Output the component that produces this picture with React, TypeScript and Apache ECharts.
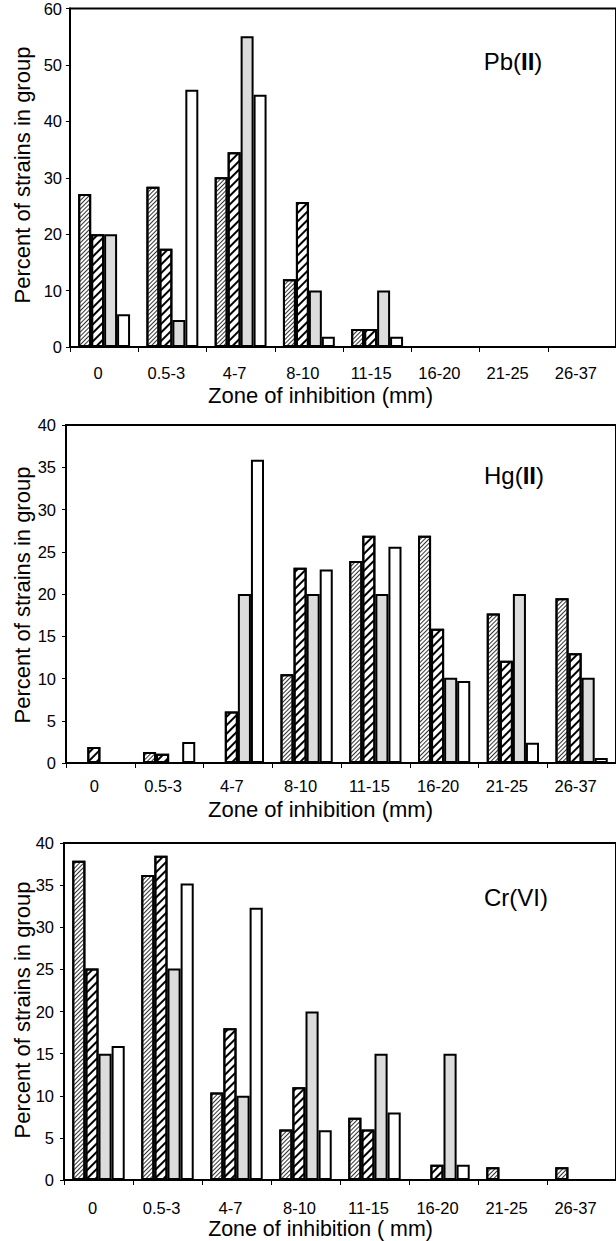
import React, { useEffect, useRef } from 'react';
import * as echarts from 'echarts';

const categories = ['0', '0.5-3', '4-7', '8-10', '11-15', '16-20', '21-25', '26-37'];

const pbFine = [27.1, 28.4, 30.1, 12.0, 3.2, 0, 0, 0];
const pbCoarse = [20.0, 17.4, 34.5, 25.7, 3.2, 0, 0, 0];
const pbGray = [20.0, 4.8, 55.1, 10.0, 10.0, 0, 0, 0];
const pbWhite = [5.8, 45.6, 44.7, 1.8, 1.8, 0, 0, 0];

const hgFine = [0, 1.3, 0, 10.5, 23.9, 26.9, 17.7, 19.5];
const hgCoarse = [1.9, 1.1, 6.1, 23.1, 26.9, 15.9, 12.1, 13.0];
const hgGray = [0, 0, 20.0, 20.0, 20.0, 10.1, 20.0, 10.1];
const hgWhite = [0, 2.5, 35.9, 22.9, 25.6, 9.7, 2.4, 0.6];

const crFine = [37.9, 36.2, 10.4, 6.0, 7.4, 0, 1.5, 1.5];
const crCoarse = [25.1, 38.5, 18.0, 11.0, 6.0, 1.8, 0, 0];
const crGray = [15.0, 25.1, 10.0, 20.0, 15.0, 15.0, 0, 0];
const crWhite = [15.9, 35.2, 32.3, 5.9, 8.0, 1.8, 0, 0];

const yTitle = 'Percent of strains in group';
const xTitles = ['Zone of inhibition (mm)', 'Zone of inhibition (mm)', 'Zone of inhibition ( mm)'];

const FONT = '"Liberation Sans", Arial, Helvetica, sans-serif';

const fineDecal = {
  symbol: 'rect',
  symbolSize: 1,
  dashArrayX: [1, 0],
  dashArrayY: [0.9, 1.7],
  rotation: -Math.PI / 4,
  color: '#333',
};
const coarseDecal = {
  symbol: 'rect',
  symbolSize: 1,
  dashArrayX: [1, 0],
  dashArrayY: [1.8, 3.9],
  rotation: -Math.PI / 4,
  color: '#000',
};

const grids = [
  { left: 70, top: 6, width: 551, height: 341 },
  { left: 66, top: 425, width: 555, height: 338 },
  { left: 64, top: 843, width: 557, height: 337 },
];
const yMax = [60, 40, 40];
const yInterval = [10, 5, 5];
const labelMargins = [17, 14, 19];

export default function App() {
  const ref = useRef<HTMLDivElement>(null);

  useEffect(() => {
    if (!ref.current) return;
    const chart = echarts.init(ref.current, null, { renderer: 'svg' });

    const panels = [
      [pbFine, pbCoarse, pbGray, pbWhite],
      [hgFine, hgCoarse, hgGray, hgWhite],
      [crFine, crCoarse, crGray, crWhite],
    ];

    const series: any[] = [];
    panels.forEach((sets, gi) => {
      sets.forEach((data, si) => {
        const itemStyle: any = {
          color: si === 2 ? '#dcdcdc' : '#ffffff',
          borderColor: '#000',
          borderWidth: 2,
        };
        if (si === 0) itemStyle.decal = fineDecal;
        if (si === 1) itemStyle.decal = coarseDecal;
        series.push({
          type: 'bar',
          xAxisIndex: gi,
          yAxisIndex: gi,
          data,
          barGap: '0%',
          barCategoryGap: '24%',
          itemStyle,
          emphasis: { disabled: true },
          z: 2,
        });
      });
    });

    const xAxis = grids.map((_, gi) => ({
      type: 'category',
      gridIndex: gi,
      data: categories,
      axisLine: { show: true, lineStyle: { color: '#000', width: 2 } },
      axisTick: { show: true, alignWithLabel: false, length: 5, lineStyle: { color: '#000', width: 1 } },
      axisLabel: {
        color: '#000',
        fontFamily: FONT,
        fontSize: 16.5,
        margin: labelMargins[gi],
        padding: [0, 12, 0, 0],
        interval: 0,
      },
      z: 5,
    }));

    const yAxis = grids.map((_, gi) => ({
      type: 'value',
      gridIndex: gi,
      min: 0,
      max: yMax[gi],
      interval: yInterval[gi],
      splitLine: { show: false },
      axisLine: { show: true, lineStyle: { color: '#000', width: 2 } },
      axisTick: { show: true, length: 4, lineStyle: { color: '#000', width: 1 } },
      axisLabel: {
        color: '#000',
        fontFamily: FONT,
        fontSize: 16.5,
        margin: gi === 0 ? 8 : 10,
      },
      z: 5,
    }));

    const yTitleY = [175, 595, 1010];
    const xTitleY = [395, 809, 1229];
    const panelLabels = [
      { text: '{a|Pb(}{b|II}{a|)}', x: 513, y: 61 },
      { text: '{a|Hg(}{b|II}{a|)}', x: 514, y: 475 },
      { text: '{a|Cr(VI)}', x: 516, y: 897 },
    ];

    const graphic: any[] = [];
    [0, 1, 2].forEach((gi) => {
      graphic.push({
        type: 'text',
        x: 22,
        y: yTitleY[gi],
        rotation: Math.PI / 2,
        style: {
          text: yTitle,
          fontFamily: FONT,
          fontSize: 22,
          fill: '#000',
          align: 'center',
          verticalAlign: 'middle',
        },
      });
      graphic.push({
        type: 'text',
        x: 320.5,
        y: xTitleY[gi],
        style: {
          text: xTitles[gi],
          fontFamily: FONT,
          fontSize: gi === 2 ? 21.4 : 22,
          fill: '#000',
          align: 'center',
          verticalAlign: 'middle',
        },
      });
      graphic.push({
        type: 'text',
        x: panelLabels[gi].x,
        y: panelLabels[gi].y,
        style: {
          text: panelLabels[gi].text,
          align: 'center',
          verticalAlign: 'middle',
          rich: {
            a: { fontFamily: FONT, fontSize: 24, fill: '#000', color: '#000' },
            b: { fontFamily: FONT, fontSize: 24, fontWeight: 'bold', fill: '#000', color: '#000' },
          },
        },
      });
    });

    chart.setOption({
      animation: false,
      backgroundColor: '#fff',
      grid: grids.map((g) => ({
        ...g,
        show: true,
        borderColor: '#000',
        borderWidth: 2,
        backgroundColor: 'transparent',
        containLabel: false,
      })),
      xAxis,
      yAxis,
      series,
      graphic,
    });

    return () => chart.dispose();
  }, []);

  return (
    <div
      ref={ref}
      style={{ position: 'absolute', left: 0, top: 0, width: 616, height: 1241 }}
    />
  );
}
